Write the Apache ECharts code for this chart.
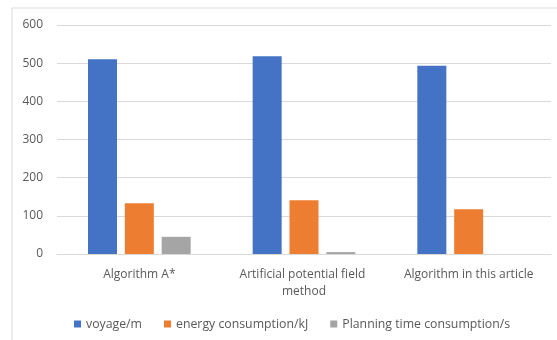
<!DOCTYPE html>
<html>
<head>
<meta charset="utf-8">
<script src="https://cdn.jsdelivr.net/npm/echarts@6/dist/echarts.min.js"></script>
<style>
  html, body { margin: 0; padding: 0; background: #fff; }
  #chart { width: 557px; height: 340px; }
</style>
</head>
<body>
<div id="chart"></div>
<script>
// Path-planning comparison across three methods
const categories = ['Algorithm A*', 'Artificial potential field method', 'Algorithm in this article'];
const seriesNames = ['voyage/m', 'energy consumption/kJ', 'Planning time consumption/s'];
const voyage = [510, 518, 493];
const energy = [133, 141, 117];
const planningTime = [45, 5, 0];
const yTicks = { min: 0, max: 600, interval: 100 };

const colors = ['#4472c4', '#ed7d31', '#a5a5a5'];
const textColor = '#595959';
const fontFamily = 'Open Sans, Liberation Sans, sans-serif';

const chart = echarts.init(document.getElementById('chart'), null, { renderer: 'canvas' });

const values = [voyage, energy, planningTime];
chart.setOption({
  animation: false,
  backgroundColor: '#fff',
  color: colors,
  textStyle: { fontFamily: fontFamily, color: textColor },
  graphic: [{
    type: 'rect',
    shape: { x: 12, y: 8, width: 700, height: 500 },
    style: { fill: 'none', stroke: '#d9d9d9', lineWidth: 1 },
    silent: true,
    z: -10
  }],
  grid: { left: 57, right: 6, top: 25, bottom: 86, containLabel: false },
  legend: {
    top: 313,
    left: 69,
    itemWidth: 7,
    itemHeight: 7,
    itemGap: 22,
    icon: 'rect',
    textStyle: { fontSize: 12.3, color: textColor, fontFamily: fontFamily },
    data: seriesNames
  },
  xAxis: {
    type: 'category',
    data: categories,
    axisLine: { lineStyle: { color: '#d9d9d9', width: 1 } },
    axisTick: { show: false },
    axisLabel: {
      color: textColor,
      fontSize: 12,
      margin: 12,
      width: 150,
      overflow: 'break',
      lineHeight: 17,
      interval: 0
    }
  },
  yAxis: {
    type: 'value',
    min: yTicks.min,
    max: yTicks.max,
    interval: yTicks.interval,
    axisLine: { show: false },
    axisTick: { show: false },
    axisLabel: { color: textColor, fontSize: 12, margin: 14 },
    splitLine: { lineStyle: { color: '#d9d9d9', width: 1 } }
  },
  series: seriesNames.map((name, i) => ({
    name: name,
    type: 'bar',
    data: values[i],
    barWidth: 29,
    barGap: '27%',
    itemStyle: { color: colors[i] }
  }))
});
</script>
</body>
</html>
